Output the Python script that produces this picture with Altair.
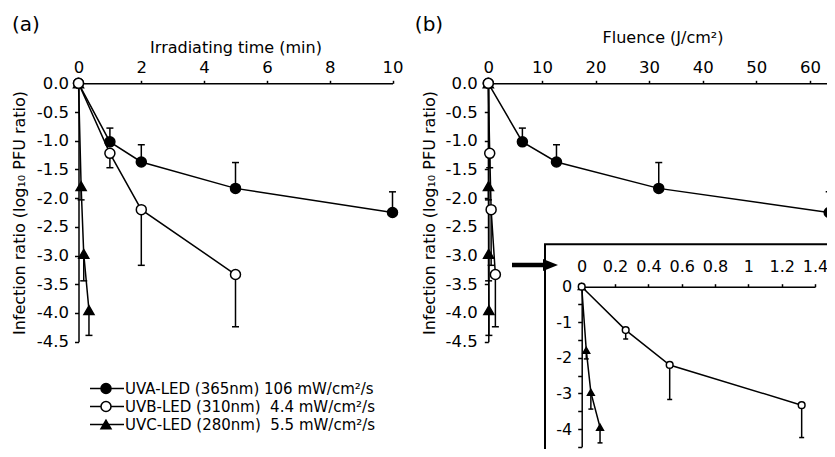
import altair as alt
import pandas as pd

FONT = "DejaVu Sans"

# ---------------- data ----------------
series = ["UVA", "UVB", "UVC"]
legend_labels = [
    "UVA-LED (365nm) 106 mW/cm²/s",
    "UVB-LED (310nm)\u00a0 4.4 mW/cm²/s",
    "UVC-LED (280nm)\u00a0 5.5 mW/cm²/s",
]
irradiance_mw = [106, 4.4, 5.5]          # mW/cm2
err_direction = [1, -1, -1]               # UVA bars up, UVB/UVC bars down

uva_sec = [0, 60, 120, 300, 600]
uva_log = [0, -1.02, -1.37, -1.83, -2.25]
uva_err = [0, 0.24, 0.30, 0.45, 0.36]

uvb_sec = [0, 60, 120, 300]
uvb_log = [0, -1.22, -2.20, -3.33]
uvb_err = [0, 0.25, 0.97, 0.91]

uvc_sec = [0, 5, 10, 20]
uvc_log = [0, -1.79, -2.97, -3.95]
uvc_err = [0, 0.24, 0.47, 0.44]

time_ticks = [0, 2, 4, 6, 8, 10]
fluence_ticks = [0, 10, 20, 30, 40, 50, 60]
inset_x_ticks = [0, 0.2, 0.4, 0.6, 0.8, 1, 1.2, 1.4]
log_ticks = [-4.5, -4.0, -3.5, -3.0, -2.5, -2.0, -1.5, -1.0, -0.5, 0.0]

# ---------------- table ----------------
raw = {"UVA": (uva_sec, uva_log, uva_err),
       "UVB": (uvb_sec, uvb_log, uvb_err),
       "UVC": (uvc_sec, uvc_log, uvc_err)}
rows = []
for s in ["UVA", "UVC", "UVB"]:
    i = series.index(s)
    secs, logs, errs = raw[s]
    for t, v, e in zip(secs, logs, errs):
        rows.append({"series": s, "t": t / 60.0, "fluence": irradiance_mw[i] * t / 1000.0,
                     "y": v, "err": e, "yend": v + err_direction[i] * e})
df = pd.DataFrame(rows)
df_inset = df[df.series != "UVA"].copy()

SHAPE = alt.Shape("series:N", scale=alt.Scale(domain=series, range=["circle", "circle", "triangle-up"]), legend=None)
FILL = alt.Fill("series:N", scale=alt.Scale(domain=series, range=["black", "white", "black"]), legend=None)

MINUS = "replace(datum.label, '\u2212', '-')"


def ax(**kw):
    base = dict(grid=False, domainColor="black", domainWidth=1.5, tickColor="black", tickWidth=1.5,
                labelColor="black", labelFont=FONT, labelFontSize=16.5, titleFont=FONT, titleFontSize=16,
                titleFontWeight="normal", titleColor="black", labelFlush=False, labelOverlap=False)
    base.update(kw)
    return alt.Axis(**base)


def panel(data, xcol, xscale, yscale, xaxis, yaxis, pt_size, cap, lw):
    base = alt.Chart(data)
    X = alt.X(f"{xcol}:Q", scale=xscale, axis=xaxis)
    Y = alt.Y("y:Q", scale=yscale, axis=yaxis)
    err = base.transform_filter("datum.err > 0")
    lines = base.mark_line(color="black", strokeWidth=lw).encode(x=X, y=Y, detail="series:N")
    rules = err.mark_rule(color="black", strokeWidth=lw).encode(x=X, y=Y, y2="yend:Q")
    caps = err.mark_tick(orient="horizontal", color="black", size=cap, thickness=lw, opacity=1).encode(
        x=X, y=alt.Y("yend:Q", scale=yscale, axis=yaxis))
    pts = base.mark_point(filled=True, opacity=1, stroke="black", strokeWidth=lw, size=pt_size).encode(
        x=X, y=Y, shape=SHAPE, fill=FILL)
    return alt.layer(lines, rules, caps, pts)


ytitle = "Infection ratio (log\u2081\u2080 PFU ratio)"

# panel (a)
xa = alt.Scale(domain=[0, 10], range=[70.5, 384.5], nice=False, zero=False)
ya = alt.Scale(domain=[-4.5, 0], range=[333.7, 75.3], nice=False, zero=False)
panel_a = panel(df, "t", xa, ya,
                ax(orient="top", offset=-75.3, values=time_ticks, tickSize=3, labelPadding=5,
                   title="Irradiating time (min)", titlePadding=4),
                ax(orient="left", offset=-70.5, values=log_ticks, format=".1f", labelExpr=MINUS,
                   tickSize=4, labelPadding=6, title=ytitle, titlePadding=9),
                100, 7, 1.5)

# panel (b)
xb = alt.Scale(domain=[0, 65], range=[480.3, 828.7], nice=False, zero=False)
yb = alt.Scale(domain=[-4.5, 0], range=[333.7, 75.3], nice=False, zero=False)
panel_b = panel(df, "fluence", xb, yb,
                ax(orient="top", offset=-75.3, values=fluence_ticks, tickSize=3, labelPadding=5,
                   title="Fluence (J/cm²)", titlePadding=14),
                ax(orient="left", offset=-480.3, values=log_ticks, format=".1f", labelExpr=MINUS,
                   tickSize=4, labelPadding=7, title=ytitle, titlePadding=8),
                100, 7, 1.5)

# inset
xi = alt.Scale(domain=[0, 1.4], range=[573.7, 807], nice=False, zero=False)
yi = alt.Scale(domain=[-4.5, 0], range=[438.8, 278.7], nice=False, zero=False)
inset = panel(df_inset, "fluence", xi, yi,
              ax(orient="top", offset=-278.7, values=inset_x_ticks, format="~g", tickSize=3,
                 labelPadding=9, labelFontSize=16, title=None),
              ax(orient="left", offset=-573.7, values=log_ticks,
                 labelExpr="datum.value % 1 === 0 ? replace(format(datum.value, 'd'), '\u2212', '-') : ''",
                 tickSize=4, labelPadding=6, labelFontSize=16, title=None),
              45, 5, 1.5)

one = pd.DataFrame({"k": [0]})
frame = alt.Chart(one).mark_rect(fill=None, stroke="black", strokeWidth=2).encode(
    x=alt.value(537), x2=alt.value(840), y=alt.value(236.3), y2=alt.value(460))
arrow_shaft = alt.Chart(one).mark_rule(color="black", strokeWidth=4.5).encode(
    x=alt.value(504), x2=alt.value(541), y=alt.value(257))
arrow_head = alt.Chart(one).mark_point(shape="M-1,-0.8L1,0L-1,0.8Z", size=225, filled=True,
                                       color="black", opacity=1).encode(
    x=alt.value(542.5), y=alt.value(257))
label_a = alt.Chart(one).mark_text(text="(a)", font=FONT, fontSize=20, color="black",
                                   align="center", baseline="middle").encode(
    x=alt.value(18), y=alt.value(17))
label_b = alt.Chart(one).mark_text(text="(b)", font=FONT, fontSize=20, color="black",
                                   align="center", baseline="middle").encode(
    x=alt.value(421), y=alt.value(17))

leg_df = pd.DataFrame({"series": series, "label": legend_labels})
LY = alt.Y("series:N", scale=alt.Scale(type="point", domain=series, range=[380.5, 416.5], padding=0), axis=None)
leg_rule = alt.Chart(leg_df).mark_rule(color="black", strokeWidth=1.5).encode(
    x=alt.value(82), x2=alt.value(116), y=LY)
leg_pts = alt.Chart(leg_df).mark_point(filled=True, opacity=1, stroke="black", strokeWidth=1.5, size=100).encode(
    x=alt.value(98), y=LY, shape=SHAPE, fill=FILL)
leg_txt = alt.Chart(leg_df).mark_text(align="left", baseline="middle", font=FONT, fontSize=15,
                                      color="black").encode(x=alt.value(117), y=LY, text="label:N")
legend = alt.layer(leg_rule, leg_pts, leg_txt)

chart = alt.layer(
    panel_a, panel_b, frame, inset, arrow_shaft, arrow_head, label_a, label_b, legend
).resolve_scale(x="independent", y="independent").properties(
    width=819, height=441, padding=0, autosize=alt.AutoSizeParams(type="none")
).configure_view(stroke=None)

chart.save("out.html", embed_options={"renderer": "svg", "actions": False})
